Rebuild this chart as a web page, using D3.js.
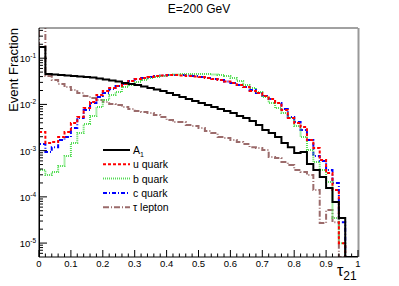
<!DOCTYPE html>
<html>
<head>
<meta charset="utf-8">
<script src="https://cdn.jsdelivr.net/npm/d3@7"></script>
<style>
  body { margin: 0; background: #fff; }
  svg { display: block; font-family: "Liberation Sans", Arial, sans-serif; }
</style>
</head>
<body>
<svg id="chart" width="399" height="286"></svg>
<script>
// tau21 distributions, E = 200 GeV, 50 bins of width 0.02 from 0 to 1
const binEdges = d3.range(0, 51).map(i => i / 50);

const a1Values = [0.175, 0.0454, 0.0443, 0.0432, 0.0422, 0.0411, 0.0401, 0.0391, 0.0382, 0.0363,
    0.0345, 0.0328, 0.0313, 0.0290, 0.0276, 0.0262, 0.0243, 0.0226, 0.0210, 0.0194,
    0.0176, 0.0160, 0.0145, 0.0131, 0.0118, 0.0107, 0.0097, 0.00877, 0.00794, 0.00719,
    0.00651, 0.00560, 0.00507, 0.00437, 0.00357, 0.00279, 0.00240, 0.00197, 0.00146, 0.00119,
    0.000885, 0.00093, 0.000512, 0.00038, 0.000268, 0.000155, 0.000077, 0.0000347, 0, 0];

const uQuarkValues = [0.00252, 0.00146, 0.00153, 0.00197, 0.00252, 0.00395, 0.00533, 0.00834, 0.01125, 0.01595,
    0.01947, 0.02261, 0.02497, 0.02759, 0.03204, 0.03540, 0.03722, 0.03913, 0.04111, 0.04215,
    0.04322, 0.04322, 0.04215, 0.04111, 0.04010, 0.03913, 0.03722, 0.03540, 0.03369, 0.03126,
    0.02900, 0.02625, 0.02375, 0.01947, 0.01762, 0.01518, 0.01306, 0.01070, 0.00755, 0.00507,
    0.00395, 0.00324, 0.00169, 0.00114, 0.000625, 0.000327, 0.000140, 0.00000998, 0, 0];

const bQuarkValues = [0.00038, 0.000296, 0.000344, 0.000463, 0.000763, 0.00146, 0.0024, 0.00376, 0.0056, 0.00877,
    0.01243, 0.01595, 0.01852, 0.02375, 0.02625, 0.03049, 0.03369, 0.03722, 0.03913, 0.04111,
    0.04322, 0.04431, 0.04544, 0.04544, 0.04544, 0.04544, 0.04544, 0.04431, 0.04322, 0.04111,
    0.03722, 0.03204, 0.02625, 0.02261, 0.01852, 0.01444, 0.0107, 0.00834, 0.0065, 0.00507,
    0.0034, 0.00197, 0.00103, 0.000566, 0.00038, 0.000209, 0.0000347, 0.00000998, 0, 0];

const cQuarkValues = [0.00139, 0.000931, 0.00119, 0.00169, 0.00197, 0.00308, 0.00507, 0.00755, 0.0107, 0.01444,
    0.01762, 0.0215, 0.02497, 0.02759, 0.03204, 0.0354, 0.03722, 0.03913, 0.04111, 0.04215,
    0.04322, 0.04322, 0.04322, 0.04215, 0.04111, 0.03913, 0.03722, 0.0354, 0.03369, 0.03126,
    0.029, 0.02625, 0.02375, 0.02046, 0.01762, 0.01518, 0.01306, 0.0107, 0.00794, 0.00533,
    0.00415, 0.00279, 0.00169, 0.000763, 0.000594, 0.00038, 0.000199, 0.0000284, 0, 0];

const tauValues = [0.6, 0.04111, 0.03369, 0.02759, 0.02375, 0.02046, 0.01762, 0.01518, 0.01373, 0.01243,
    0.01125, 0.01018, 0.00969, 0.00877, 0.00794, 0.00719, 0.00684, 0.0065, 0.00589, 0.00533,
    0.00459, 0.00415, 0.00415, 0.00358, 0.0034, 0.00308, 0.00265, 0.0024, 0.00197, 0.00187,
    0.00169, 0.00153, 0.00139, 0.00119, 0.00114, 0.00103, 0.000726, 0.00069, 0.000566, 0.000487,
    0.00038, 0.000344, 0.000296, 0.00014, 0.0000271, 0.0000517, 0.0000284, 0, 0, 0];

const xTicks = [0, 0.1, 0.2, 0.3, 0.4, 0.5, 0.6, 0.7, 0.8, 0.9, 1];
const yDecades = [-5, -4, -3, -2, -1];

const series = [
    { name: "A", sub: "1", values: a1Values, color: "#000000", width: 2, dash: null },
    { name: "u quark", values: uQuarkValues, color: "#ff0000", width: 2, dash: "3,2" },
    { name: "b quark", values: bQuarkValues, color: "#55dd55", width: 2, dash: "1,1" },
    { name: "c quark", values: cQuarkValues, color: "#0000ff", width: 2, dash: "4,2,1,2" },
    { name: "\u03c4 lepton", values: tauValues, color: "#9b6b6b", width: 2, dash: "6,2,1,2" }
];

const margin = { top: 28, right: 41, bottom: 29, left: 39 };
const width = 399 - margin.left - margin.right;
const height = 286 - margin.top - margin.bottom;

const svg = d3.select("#chart");
const g = svg.append("g").attr("transform", `translate(${margin.left},${margin.top})`);

const xScale = d3.scaleLinear().domain([0, 1]).range([0, width]);
const yScale = d3.scaleLog().domain([5e-6, 0.45]).range([height, 0]);
const yMin = yScale.domain()[0];

g.append("clipPath").attr("id", "plotclip")
    .append("rect").attr("width", width).attr("height", height);

// histograms drawn in reverse so A1 ends on top
const plot = g.append("g").attr("clip-path", "url(#plotclip)");
series.slice().reverse().forEach(s => {
    let d = `M${xScale(0)},${height}`;
    s.values.forEach((v, i) => {
        const y = yScale(Math.max(v, yMin));
        d += `V${y}H${xScale(binEdges[i + 1])}`;
    });
    d += `V${height}`;
    plot.append("path")
        .attr("d", d)
        .attr("fill", "none")
        .attr("stroke", s.color)
        .attr("stroke-width", s.width)
        .attr("stroke-dasharray", s.dash);
});

// frame
g.append("line").attr("x1", 0).attr("x2", width).attr("y1", 0).attr("y2", 0)
    .attr("stroke", "#444").attr("stroke-width", 1);
g.append("line").attr("x1", width + 0.5).attr("x2", width + 0.5).attr("y1", 0).attr("y2", height)
    .attr("stroke", "#999").attr("stroke-width", 2);

// x axis with ticks pointing inside
const xMinor = d3.range(0, 51).map(i => i / 50);
const xAxisG = g.append("g").attr("transform", `translate(0,${height})`);
xAxisG.append("line").attr("x1", 0).attr("x2", width).attr("stroke", "#000");
xAxisG.selectAll(".xminor").data(xMinor).join("line")
    .attr("x1", d => xScale(d)).attr("x2", d => xScale(d))
    .attr("y1", 0).attr("y2", d => (Math.round(d * 50) % 5 === 0 ? -7 : -3.5))
    .attr("stroke", "#000");
xAxisG.selectAll(".xlabel").data(xTicks).join("text")
    .attr("x", d => xScale(d)).attr("y", 10)
    .attr("text-anchor", "middle")
    .style("font-size", "9.5px")
    .text(d => d3.format("~g")(d));

// y axis (log) with ticks pointing inside
const yAxisG = g.append("g");
yAxisG.append("line").attr("y1", 0).attr("y2", height).attr("stroke", "#000");
const yMinor = [];
for (let e = -6; e <= 0; e++) {
    for (let k = 1; k <= 9; k++) {
        const v = k * Math.pow(10, e);
        if (v >= yMin && v <= 0.45) yMinor.push({ v: v, major: k === 1 });
    }
}
yAxisG.selectAll(".ytick").data(yMinor).join("line")
    .attr("x1", 0).attr("x2", d => (d.major ? 8 : 4))
    .attr("y1", d => yScale(d.v)).attr("y2", d => yScale(d.v))
    .attr("stroke", "#000");
const yLabels = yAxisG.selectAll(".ylabel").data(yDecades).join("text")
    .attr("x", -3).attr("y", d => yScale(Math.pow(10, d)) + 4)
    .attr("text-anchor", "end")
    .style("font-size", "9.5px");
yLabels.append("tspan").text("10");
yLabels.append("tspan").attr("dy", -4).style("font-size", "6.5px").text(d => d);

// titles
svg.append("text")
    .attr("x", 199).attr("y", 13)
    .attr("text-anchor", "middle")
    .style("font-size", "12px")
    .text("E=200 GeV");

svg.append("text")
    .attr("transform", "translate(18,28) rotate(-90)")
    .attr("text-anchor", "end")
    .style("font-size", "13px")
    .text("Event Fraction");

const xTitle = svg.append("text")
    .attr("x", 337).attr("y", 276)
    .style("font-size", "16px");
xTitle.append("tspan").text("\u03c4");
xTitle.append("tspan").attr("dy", 4).style("font-size", "12px").text("21");

// legend
const legend = svg.append("g").attr("transform", "translate(103,150)");
series.forEach((s, i) => {
    const row = legend.append("g").attr("transform", `translate(0,${i * 14.3})`);
    row.append("line")
        .attr("x1", 0).attr("x2", 27).attr("y1", 0).attr("y2", 0)
        .attr("stroke", s.color)
        .attr("stroke-width", s.width)
        .attr("stroke-dasharray", s.dash);
    const t = row.append("text")
        .attr("x", 30).attr("y", 4)
        .style("font-size", "10.5px");
    t.append("tspan").text(s.name);
    if (s.sub) t.append("tspan").attr("dy", 2.5).style("font-size", "7px").text(s.sub);
});
</script>
</body>
</html>
